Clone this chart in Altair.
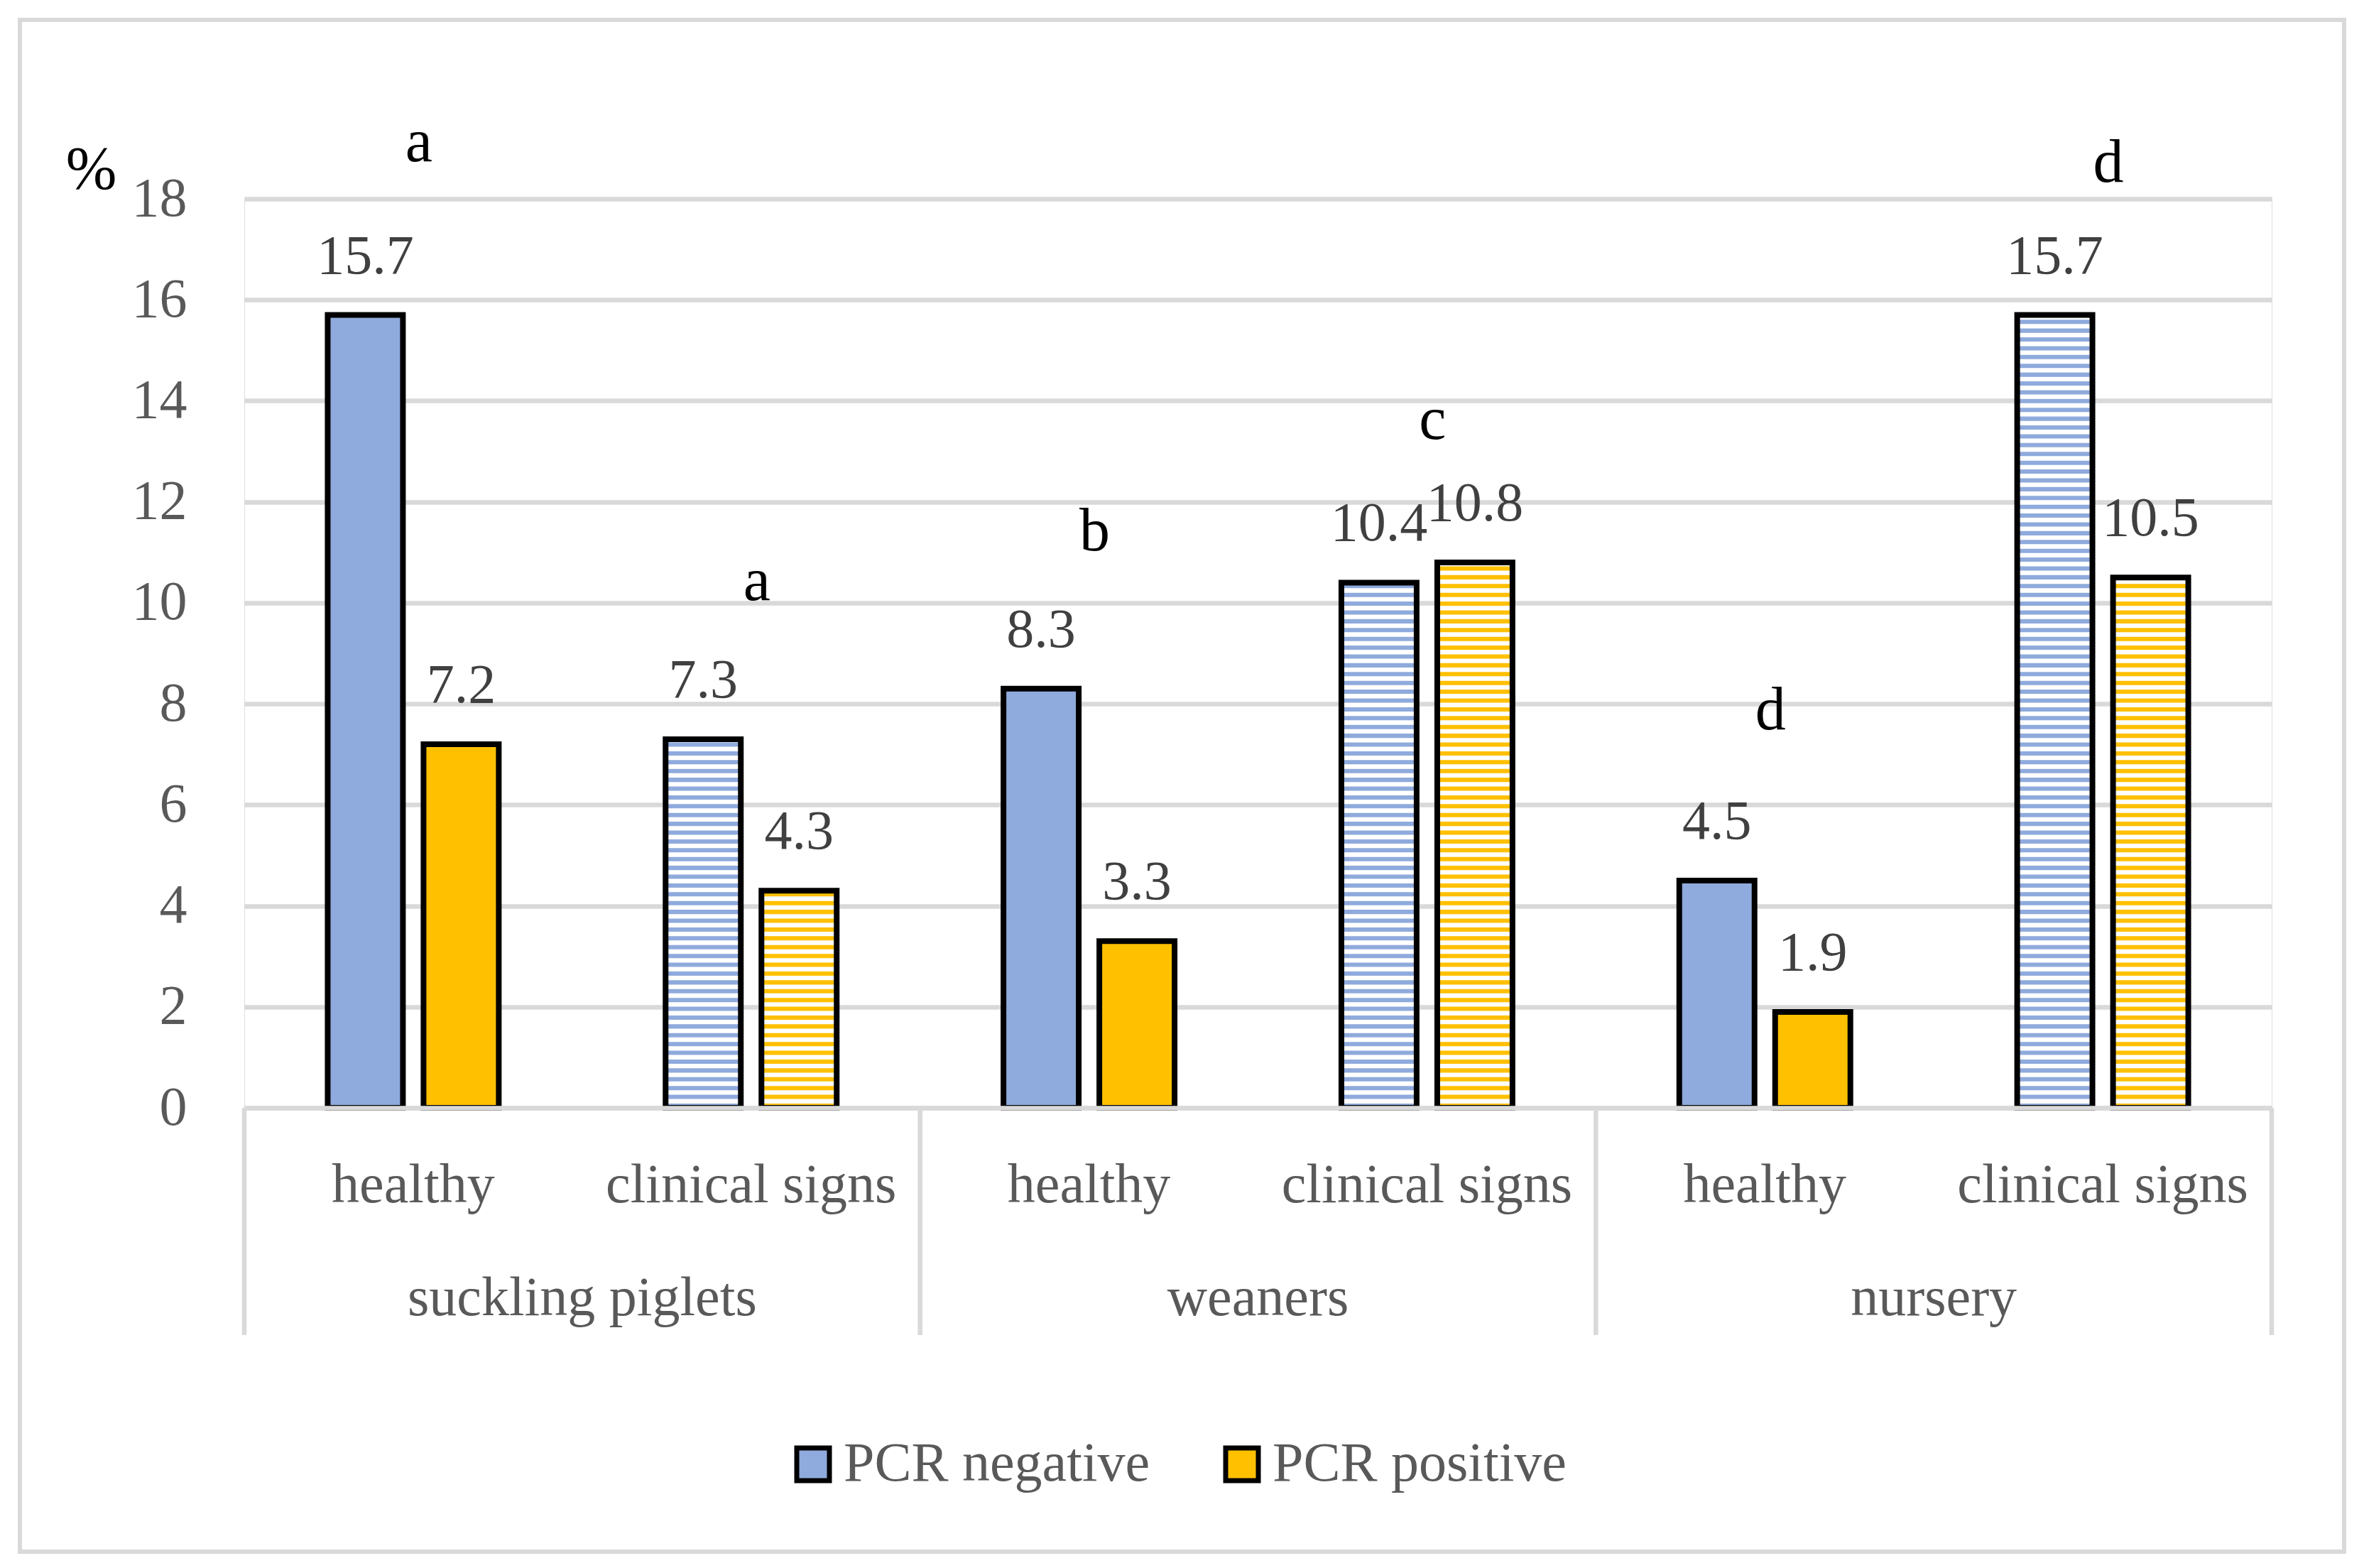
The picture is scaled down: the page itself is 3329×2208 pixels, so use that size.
import altair as alt
import pandas as pd

# ---------------- data ----------------
groups = ["suckling piglets", "weaners", "nursery"]
subs = ["healthy", "clinical signs"]
series = ["PCR negative", "PCR positive"]
neg_values = [15.7, 7.3, 8.3, 10.4, 4.5, 15.7]
pos_values = [7.2, 4.3, 3.3, 10.8, 1.9, 10.5]
letters = ["a", "a", "b", "c", "d", "d"]
letter_y = [18.75, 10.05, 11.04, 13.25, 7.50, 18.34]
y_ticks = [0, 2, 4, 6, 8, 10, 12, 14, 16, 18]
colors = ["#8FAADC", "#FFC000"]

keys = [f"{g}|{s}" for g in groups for s in subs]
rows = []
for i, k in enumerate(keys):
    g, s = k.split("|")
    rows.append(dict(key=k, group=g, sub=s, series=series[0], value=neg_values[i]))
    rows.append(dict(key=k, group=g, sub=s, series=series[1], value=pos_values[i]))
bars_df = pd.DataFrame(rows)
letters_df = pd.DataFrame(dict(key=keys, letter=letters, ly=letter_y))
groups_df = pd.DataFrame(dict(group=groups, mid=[i + 0.5 for i in range(len(groups))]))
bounds_df = pd.DataFrame(dict(b=list(range(len(groups) + 1))))

FONT = "Liberation Serif"
GRID = "#d9d9d9"

x_axis = alt.Axis(title=None, labelExpr="split(datum.label, '|')[1]", labelFont=FONT,
                  labelFontSize=78, labelColor="#595959", labelPadding=132,
                  labelBaseline="alphabetic", labelAngle=0, labelLimit=0,
                  ticks=False, tickSize=0,
                  domainColor=GRID, domainWidth=6.5, grid=False, zindex=1)
x_scale = alt.Scale(domain=keys, paddingInner=0, paddingOuter=0)
xoff_scale = alt.Scale(domain=series, paddingInner=0.215, paddingOuter=0.87)
y_scale = alt.Scale(domain=[0, 18], nice=False, zero=True)
y_axis = alt.Axis(values=y_ticks, title="%", titleAngle=0, titleX=-216, titleY=-15,
                  titleAlign="center", titleBaseline="alphabetic", titleFont=FONT,
                  titleFontSize=86, titleColor="black", titleFontWeight="normal",
                  labelFont=FONT, labelFontSize=78, labelColor="#595959",
                  labelPadding=81, labelBaseline="middle", domain=False, ticks=False,
                  gridColor=GRID, gridWidth=6.5, zindex=0)


def X():
    return alt.X("key:N", sort=keys, scale=x_scale, axis=x_axis)


def XO():
    return alt.XOffset("series:N", sort=series, scale=xoff_scale)


def Y(field):
    return alt.Y(field, scale=y_scale, axis=y_axis)


fill_bars = alt.Chart(bars_df).mark_bar().encode(
    x=X(), xOffset=XO(), y=Y("value:Q"),
    color=alt.Color("series:N", sort=series,
                    scale=alt.Scale(domain=series, range=colors),
                    legend=alt.Legend(orient="none", legendX=762, legendY=1743,
                                      direction="horizontal", title=None,
                                      symbolType="square", symbolSize=2116,
                                      symbolStrokeColor="black", symbolStrokeWidth=7,
                                      symbolOpacity=1, labelLimit=0,
                                      labelFont=FONT, labelFontSize=78,
                                      labelColor="#595959", columnPadding=90,
                                      labelOffset=4, padding=0)),
)

stripes = (
    alt.Chart(bars_df)
    .transform_filter(f"datum.sub == '{subs[1]}'")
    .transform_calculate(s="sequence(0, datum.value, 0.1744)")
    .transform_flatten(["s"])
    .transform_calculate(lo="datum.s + 0.085", hi="min(datum.s + 0.1744, datum.value)")
    .transform_filter("datum.lo < datum.hi")
    .mark_bar(color="white")
    .encode(x=X(), xOffset=XO(), y=Y("lo:Q"), y2="hi:Q")
)

outline = alt.Chart(bars_df).mark_bar(fillOpacity=0, stroke="black", strokeWidth=8).encode(
    x=X(), xOffset=XO(), y=Y("value:Q")
)

values_text = alt.Chart(bars_df).mark_text(
    dy=-59, baseline="alphabetic", font=FONT, fontSize=78, color="#404040"
).encode(x=X(), xOffset=XO(), y=Y("value:Q"), text=alt.Text("value:Q", format=".1f"))

letters_text = alt.Chart(letters_df).mark_text(
    baseline="alphabetic", font=FONT, fontSize=86, color="black", dx=8
).encode(x=X(), y=Y("ly:Q"), text="letter:N")

inner = alt.layer(fill_bars, stripes, outline, values_text, letters_text)

gx_scale = alt.Scale(domain=[0, len(groups)], nice=False, zero=False)
seps = alt.Chart(bounds_df).mark_rule(color=GRID, strokeWidth=6.5).encode(
    x=alt.X("b:Q", scale=gx_scale, axis=None), y=alt.value(1280), y2=alt.value(1600)
)
glabels = alt.Chart(groups_df).mark_text(
    baseline="alphabetic", font=FONT, fontSize=78, color="#595959"
).encode(x=alt.X("mid:Q", scale=gx_scale, axis=None), y=alt.value(1572), text="group:N")
frame = alt.Chart(bounds_df.head(1)).mark_rect(
    fill="white", fillOpacity=0, stroke=GRID, strokeWidth=6
).encode(x=alt.value(-316), x2=alt.value(2957), y=alt.value(-252), y2=alt.value(1905))

chart = (
    alt.layer(inner, seps, glabels, frame)
    .resolve_scale(x="independent")
    .properties(width=2855, height=1280,
                autosize=alt.AutoSizeParams(type="none"),
                padding={"left": 336, "top": 272, "right": 122, "bottom": 640})
    .configure_view(strokeWidth=0)
    .configure(background="white")
)

chart.save("out.html", embed_options={"renderer": "svg", "actions": False})
